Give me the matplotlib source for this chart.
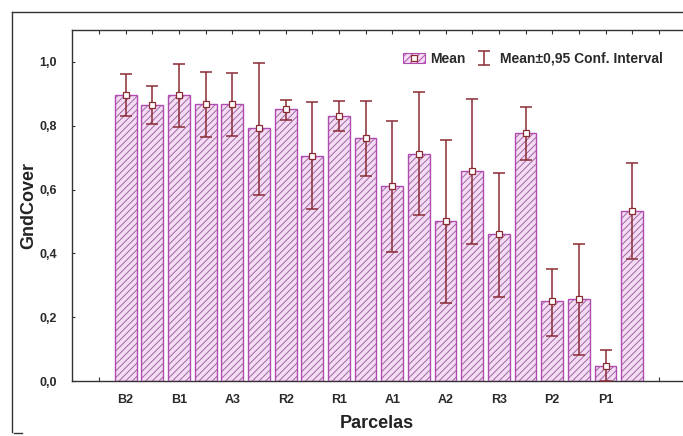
import matplotlib
matplotlib.use("Agg")
import matplotlib.pyplot as plt
from matplotlib.patches import Patch
from matplotlib.lines import Line2D
import numpy as np

plt.rcParams['font.family'] = ['Liberation Sans', 'DejaVu Sans']
plt.rcParams['hatch.linewidth'] = 0.7

# ---- data ----
tick_labels = ["B2", "B1", "A3", "R2", "R1", "A1", "A2", "R3", "P2", "P1"]
means = [0.897, 0.865, 0.897, 0.869, 0.869, 0.794, 0.852, 0.705, 0.831, 0.761,
         0.612, 0.712, 0.500, 0.659, 0.460, 0.776, 0.251, 0.256, 0.047, 0.534]
upper = [0.961, 0.923, 0.993, 0.967, 0.965, 0.998, 0.881, 0.873, 0.879, 0.876,
         0.815, 0.907, 0.755, 0.883, 0.651, 0.858, 0.352, 0.428, 0.097, 0.684]
lower = [0.829, 0.805, 0.797, 0.766, 0.769, 0.583, 0.818, 0.539, 0.782, 0.641,
         0.403, 0.520, 0.243, 0.428, 0.264, 0.693, 0.142, 0.081, 0.000, 0.381]

W, H = 683, 436
fig = plt.figure(figsize=(W / 100, H / 100), dpi=100)

# axes geometry in pixels
ax_left, ax_top, ax_bottom = 72.3, 30, 381
pitch = 26.66
xmin, xmax = -1, 22
ax_width = (xmax - xmin) * pitch
ax_height = ax_bottom - ax_top
ax = fig.add_axes([ax_left / W, (H - ax_bottom) / H, ax_width / W, ax_height / H])

x = np.arange(1, len(means) + 1)
means_a = np.array(means)
err = np.vstack([means_a - np.array(lower), np.array(upper) - means_a])

face = '#f4dcf4'
hatch_col = '#a066a0'
edge = '#b04cb0'
err_col = '#8a2c34'

ax.bar(x, means_a, width=0.82, color=face, edgecolor=hatch_col, linewidth=0,
       hatch='/////', zorder=2)
ax.bar(x, means_a, width=0.82, facecolor='none', edgecolor=edge, linewidth=1.0, zorder=3)

ec = ax.errorbar(x, means_a, yerr=err, fmt='none', ecolor=err_col, elinewidth=1.1,
                 capsize=4.3, capthick=1.1, zorder=4)
ax.plot(x, means_a, linestyle='none', marker='s', markersize=4.6,
        markerfacecolor='white', markeredgecolor=err_col, markeredgewidth=0.9, zorder=5)

ax.set_xlim(xmin, xmax)
ax.set_ylim(0, 1.1)

# ticks
ax.set_xticks(np.arange(0, 22))
labs = [''] * 22
for i, lab in enumerate(tick_labels):
    labs[1 + 2 * i] = lab
ax.set_xticklabels(labs)
yt = [0.0, 0.2, 0.4, 0.6, 0.8, 1.0]
ax.set_yticks(yt)
ax.set_yticklabels([f"{v:.1f}".replace('.', ',') for v in yt])
ax.tick_params(axis='x', direction='in', length=3, width=0.8, top=True, bottom=True,
               labelsize=9, colors='#333333', labelcolor='#2a2a2a', pad=9)
ax.tick_params(axis='y', direction='in', length=2, width=0.8, labelsize=9,
               colors='#333333', labelcolor='#2a2a2a', pad=11)
for lab in ax.get_xticklabels() + ax.get_yticklabels():
    lab.set_fontweight('bold')

for sp in ax.spines.values():
    sp.set_color('#333333')
    sp.set_linewidth(1.0)

ax.set_ylabel('GndCover', fontsize=13, fontweight='bold', color='#222222')
ax.yaxis.set_label_coords((37 - ax_left) / ax_width, 0.5)
fig.text(377 / W, 1 - 423 / H, 'Parcelas', fontsize=13, fontweight='bold',
         color='#222222', ha='center', va='center')

# legend
patch_h = Patch(facecolor=face, edgecolor=edge, hatch='/////', linewidth=0.8)
mark_h = Line2D([], [], linestyle='none', marker='s', markersize=4.6,
                markerfacecolor='white', markeredgecolor=err_col, markeredgewidth=0.9)
leg = ax.legend([(patch_h, mark_h), ec], ['Mean', 'Mean±0,95 Conf. Interval'],
                loc='upper left',
                bbox_to_anchor=((397 - ax_left) / ax_width, (ax_bottom - 46) / ax_height),
                ncol=2, frameon=False, prop={'weight': 'bold', 'size': 10},
                handlelength=1.6, handletextpad=0.4, columnspacing=0.5, borderaxespad=0)
for t in leg.get_texts():
    t.set_color('#2a2a2a')

# outer frame lines
fig.add_artist(Line2D([11.5 / W, 11.5 / W], [1 - 12 / H, 1 - 432 / H], color='#333333', lw=1.0))
fig.add_artist(Line2D([11.5 / W, 1.0], [1 - 12 / H, 1 - 12 / H], color='#333333', lw=1.0))
fig.add_artist(Line2D([14 / W, 22 / W], [1 - 433 / H, 1 - 433 / H], color='#333333', lw=1.0))

fig.savefig('out.png', dpi=100)
